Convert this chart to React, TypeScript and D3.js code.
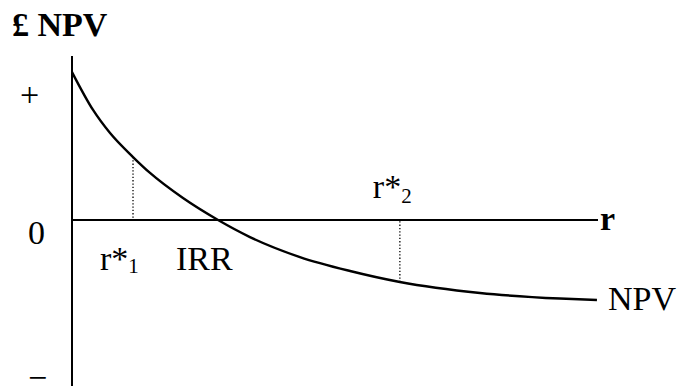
import React from "react";
import * as d3 from "d3";

// Discount rate (r) and NPV (arbitrary units)
const rates = [0, 1.2, 2.17, 3.48, 4.45, 6.33, 8.33, 10.15, 13.0, 15.86, 18.7, 23.27, 27.83, 29.94];
const npvValues = [90.2, 67.1, 53.0, 38.4, 28.7, 13.4, 0, -10.4, -22.6, -31.1, -37.8, -44.5, -47.9, -48.8];

const markerRates = [3.48, 18.7]; // r*1, r*2
const markerNpv = [38.4, -37.8];
const irr = 8.33;

const W = 677;
const H = 386;
const FONT = "'Liberation Serif', 'Times New Roman', Times, serif";
const FS = 34;

export default function App() {
  const x = d3.scaleLinear().domain([0, 30]).range([72, 598]);
  const y = d3.scaleLinear().domain([-100, 100]).range([384, 56]);

  const line = d3
    .line<number>()
    .x((_, i) => x(rates[i]))
    .y((d) => y(d))
    .curve(d3.curveMonotoneX);

  const path = line(npvValues) || "";

  return (
    <svg
      width={W}
      height={H}
      style={{ position: "absolute", left: 0, top: 0, background: "#fff" }}
      fontFamily={FONT}
    >
      {/* axes */}
      <line x1={x(0)} x2={x(0)} y1={y(100)} y2={H} stroke="#000" strokeWidth={2} />
      <line x1={x(0)} x2={x(30)} y1={y(0)} y2={y(0)} stroke="#000" strokeWidth={2} />

      {/* dotted markers */}
      {markerRates.map((r, i) => (
        <line
          key={i}
          x1={x(r)}
          x2={x(r)}
          y1={y(markerNpv[i])}
          y2={y(0)}
          stroke="#000"
          strokeWidth={1.3}
          strokeDasharray="1.3,2"
        />
      ))}

      {/* NPV curve */}
      <path d={path} fill="none" stroke="#000" strokeWidth={2.4} />

      {/* labels */}
      <text x={12} y={36} fontSize={FS} fontWeight="bold">£ NPV</text>
      <text x={20} y={106} fontSize={FS}>+</text>
      <text x={28} y={244} fontSize={FS}>0</text>
      <text x={28} y={389} fontSize={FS}>−</text>
      <text x={x(30) + 2} y={230} fontSize={FS} fontWeight="bold">r</text>
      <text x={x(30) + 10} y={310} fontSize={FS}>NPV</text>

      <text x={x(markerRates[0]) - 33} y={270} fontSize={FS}>
        r*<tspan fontSize={21} dy={3}>1</tspan>
      </text>
      <text x={x(irr) - 42} y={270} fontSize={FS}>IRR</text>
      <text x={x(markerRates[1]) - 27} y={198} fontSize={FS}>
        r*<tspan fontSize={21} dy={5}>2</tspan>
      </text>
    </svg>
  );
}
